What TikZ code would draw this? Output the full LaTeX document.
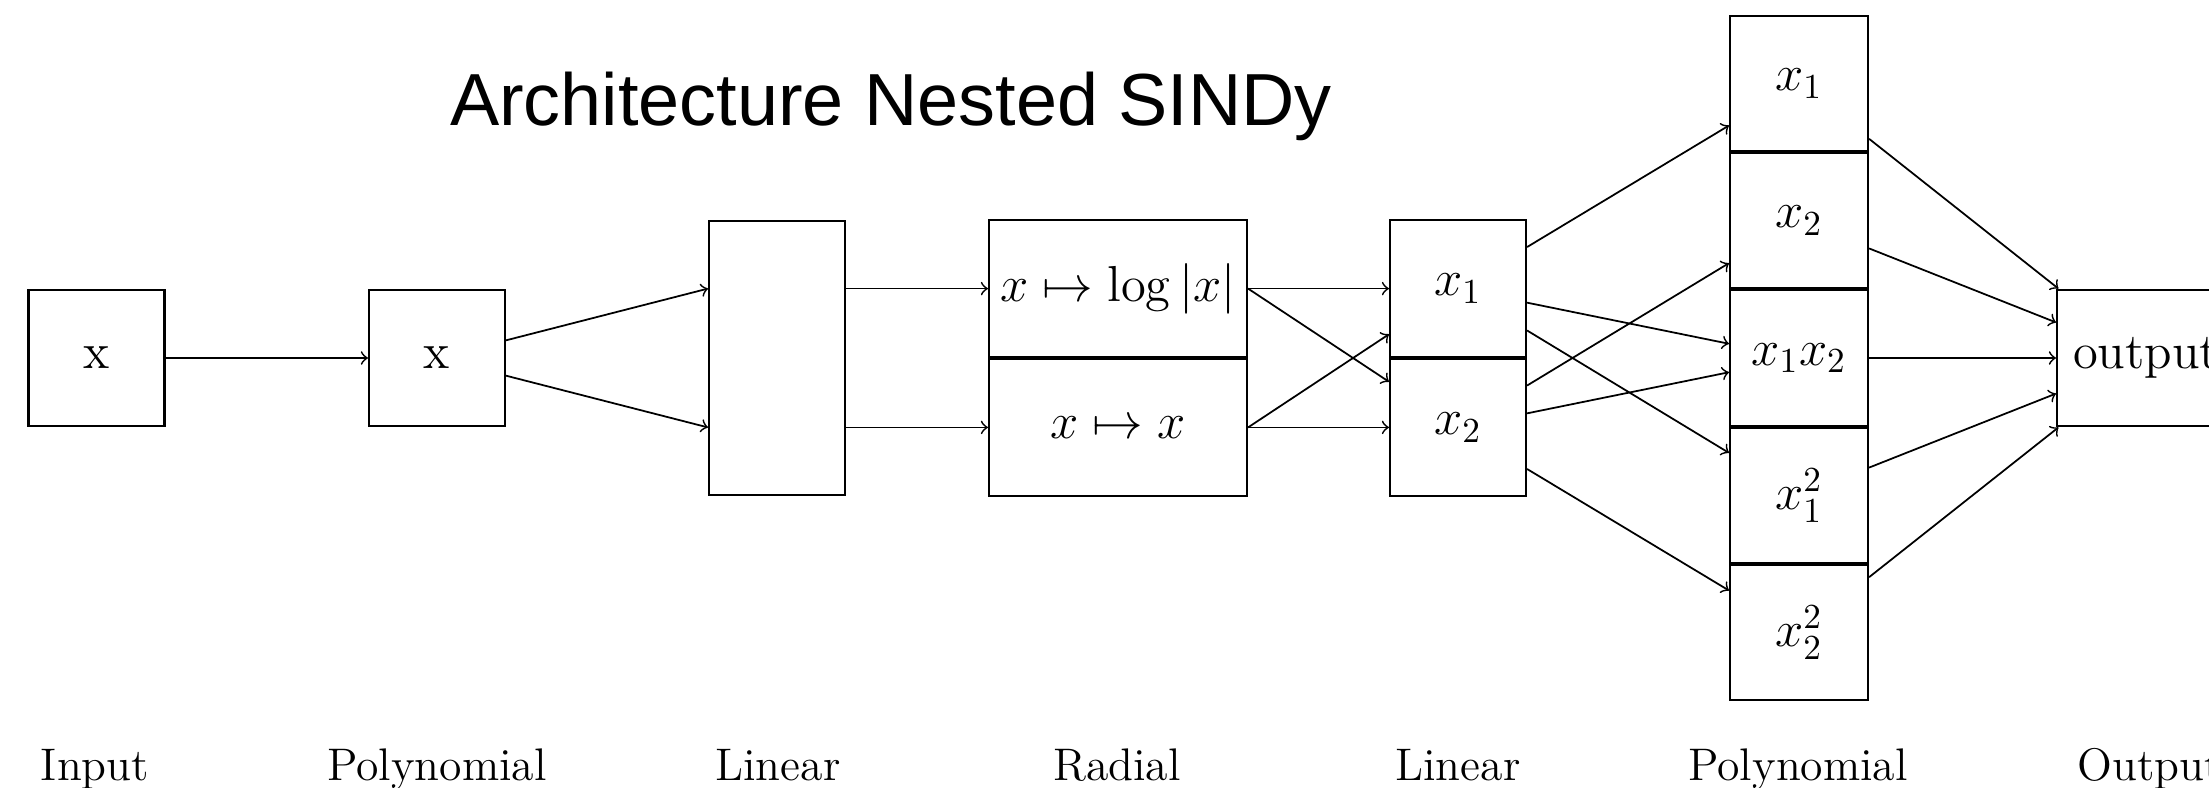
\documentclass[tikz,border=0pt]{standalone}
\usepackage{amsmath,amssymb}
\usepackage{fontspec}
\newfontfamily\titlefont{Liberation Sans}
\usetikzlibrary{positioning,arrows,calc}

\begin{document}
\begin{tikzpicture}[box/.style={draw,semithick,minimum width=1.36cm,minimum height=1.367cm,inner sep=0pt,font=\Large},
	wbox/.style={box,minimum width=2.58cm},
	pbox/.style={box,minimum width=1.38cm,minimum height=1.352cm},
	lbl/.style={anchor=base,font=\fontsize{13}{15}\selectfont},
	conn/.style={->,line width=0.5pt}]
				\useasboundingbox (0,0) rectangle (22.09,7.87);
				\node[anchor=base,font=\titlefont\fontsize{21}{25}\selectfont] (title) at (8.91,6.62){Architecture Nested SINDy};
				% input and first layers
				\node[box] (inp) at (0.965,4.29){x};
				\node[box] (pola) at (4.37,4.29){x};
				\node[box,minimum height=2.733cm] (lina) at (7.77,4.29){};
				\node[wbox,anchor=south] (rlog) at (11.18,4.29){$x\mapsto\log|x|$};
				\node[wbox,below=0pt of rlog] (rid){$x\mapsto x$};
				\node[box,anchor=south] (linx) at (14.58,4.29){$x_1$};
				\node[box,below=0pt of linx] (liny){$x_2$};
				% polynomial stack
				\node[pbox] (pxy) at (17.99,4.29){$x_1x_2$};
				\node[pbox,above=0pt of pxy] (py){$x_2$};
				\node[pbox,above=0pt of py] (px){$x_1$};
				\node[pbox,below=0pt of pxy] (pxx){$x_1^2$};
				\node[pbox,below=0pt of pxx] (pyy){$x_2^2$};
				\node[box,minimum width=1.78cm] (outp) at (21.46,4.29){output};
				% labels
				\node[lbl] (tinp) at (0.95,0.07){Input};
				\node[lbl] (tpola) at (4.37,0.07){Polynomial};
				\node[lbl] (tlina) at (7.78,0.07){Linear};
				\node[lbl] (trad) at (11.17,0.07){Radial};
				\node[lbl] (tlinb) at (14.58,0.07){Linear};
				\node[lbl] (tpolb) at (17.98,0.07){Polynomial};
				\node[lbl,anchor=base west] (toutp) at (20.65,0.07){Output};
				% connections
				\draw[conn] (inp) -- (pola);
				\draw[conn] (pola) -- (lina.west |- rlog);
				\draw[conn] (pola) -- (lina.west |- rid);
				\draw[conn] (lina.east |- rlog) -- (rlog);
				\draw[conn] (lina.east |- rid) -- (rid);
				\foreach \a in {rlog,rid}
					\foreach \b in {linx,liny}
						\draw[conn] (\a.east) -- (\b);
				\foreach \b in {px,pxy,pxx}
					\draw[conn] (linx) -- (\b);
				\foreach \b in {py,pxy,pyy}
					\draw[conn] (liny) -- (\b);
				\foreach \a in {px,py,pxy,pxx,pyy}
					\draw[conn] (\a) -- (outp);
			\end{tikzpicture}
\end{document}
